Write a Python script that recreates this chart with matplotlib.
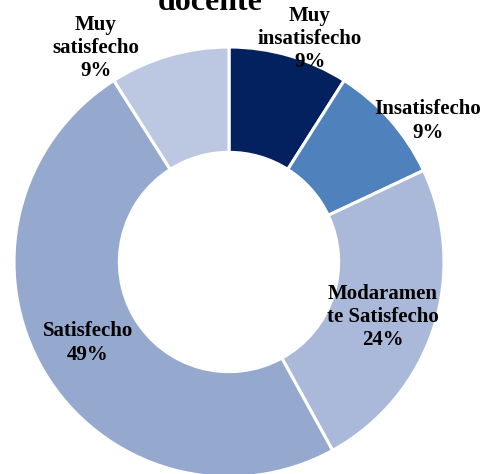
import matplotlib.pyplot as plt

# datos
categorias = ["Muy\ninsatisfecho", "Insatisfecho", "Modaramen\nte Satisfecho", "Satisfecho", "Muy\nsatisfecho"]
porcentajes = [9, 9, 24, 49, 9]
colores = ["#03215E", "#4F81BD", "#AAB9D9", "#95A9CF", "#BCC8E1"]

plt.rcParams['font.family'] = ['Liberation Serif', 'DejaVu Serif']

W, H = 490, 474
fig = plt.figure(figsize=(W / 100, H / 100), dpi=100)

# centro del anillo (px) y radio
cx, cy, r = 229, 262, 215
ax = fig.add_axes([(cx - r) / W, (H - cy - r) / H, 2 * r / W, 2 * r / H])
ax.pie(porcentajes, colors=colores, startangle=90, counterclock=False, radius=1,
       wedgeprops=dict(width=0.49, edgecolor="white", linewidth=2.2))
ax.set_xlim(-1, 1)
ax.set_ylim(-1, 1)
ax.set_aspect("equal")
ax.axis("off")

# posiciones de etiquetas en px
pos = [(310, 39), (428, 121), (383, 317), (88, 343), (96, 48)]
for (px, py), cat, p in zip(pos, categorias, porcentajes):
    ax.text((px - cx) / r, (cy - py) / r, f"{cat}\n{p}%", ha="center", va="center",
            fontsize=15, fontweight="bold", linespacing=1.22, color="black")

# título (solo se ve la última línea, cortada arriba como en el original)
fig.text(210 / W, 1 - 10 / H, "docente", ha="center", va="baseline",
         fontsize=23, fontweight="bold")

fig.savefig("out.png", dpi=100)
